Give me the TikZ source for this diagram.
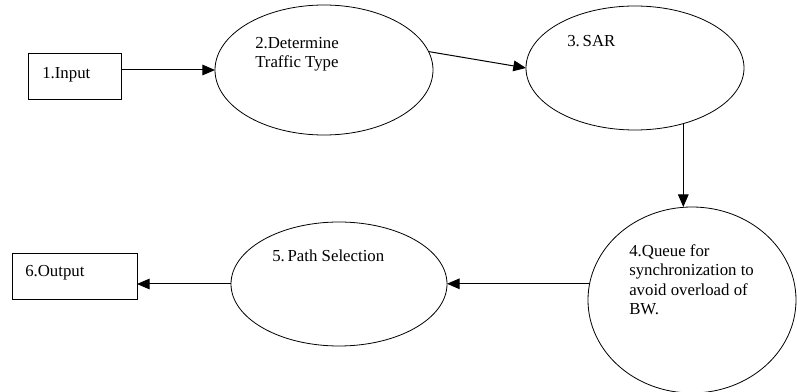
\documentclass[tikz,border=0pt]{standalone}
\usepackage{fontspec}
\setmainfont{Liberation Serif}
\usepackage{tikz}
\usetikzlibrary{arrows.meta,shapes.geometric,positioning,calc}
\tikzset{>={Triangle[length=9.5pt,width=8pt]}}
\tikzset{
    proc/.style={draw, ellipse, line width=0.6pt, inner sep=0pt, outer sep=0pt},
    iobox/.style={draw, rectangle, line width=0.6pt, inner sep=0pt, outer sep=0pt},
    lbl/.style={anchor=north west, inner sep=0pt, align=left, font=\rmfamily\fontsize{12.6}{14.6}\selectfont},
    arr/.style={->, line width=0.75pt}
}

\begin{document}
\begin{tikzpicture}[x=0.75pt, y=-0.75pt]
    \useasboundingbox (0,0) rectangle (797,392);

    % boxes and processes
    \node[iobox, minimum width=69.75pt, minimum height=34.5pt] (in1) at (74.5,76) {};
    \node[proc, minimum width=163.5pt, minimum height=97.5pt] (e2) at (324,70) {};
    \node[proc, minimum width=163.5pt, minimum height=93pt] (e3) at (635,68) {};
    \node[proc, minimum width=156pt, minimum height=139.5pt] (e4) at (692,300) {};
    \node[proc, minimum width=162pt, minimum height=93pt] (e5) at (339,284) {};
    \node[iobox, minimum width=93.75pt, minimum height=34.5pt] (out6) at (74.5,276) {};

    % texts
    \node[lbl] (t1) at (42,67) {1.Input};
    \node[lbl] (t2) at (255,37) {2.Determine\\Traffic Type};
    \node[lbl] (t3) at (567,35) {3.\,SAR};
    \node[lbl] (t4) at (629,244) {4.Queue for\\synchronization to\\avoid overload of\\BW.};
    \node[lbl] (t5) at (272,250) {5.\,Path Selection};
    \node[lbl] (t6) at (25,265) {6.Output};

    % flow
    \draw[arr] (in1.east |- e2.west) -- (e2.west);
    \draw[arr] (e2.10) -- (e3.west);
    \draw[arr] (e3.-49) -- (e3.-49 |- e4.north);
    \draw[arr] (e4.171) -- (e4.171 -| e5.east);
    \draw[arr] (e5.west) -- (e5.west -| out6.east);
\end{tikzpicture}
\end{document}
